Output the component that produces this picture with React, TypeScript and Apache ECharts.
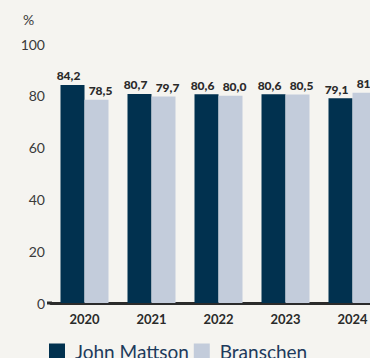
import React, { useEffect, useRef } from "react";
import * as echarts from "echarts";

const years = ["2020", "2021", "2022", "2023", "2024"];
const johnMattson = [84.2, 80.7, 80.6, 80.6, 79.1];
const branschen = [78.5, 79.7, 80.0, 80.5, 81.2];
const seriesNames = ["John Mattson", "Branschen"];

const fmt = (v: number) => v.toFixed(1).replace(".", ",");

export default function App() {
  const ref = useRef<HTMLDivElement>(null);
  useEffect(() => {
    document.body.style.margin = "0";
    const chart = echarts.init(ref.current!, null, { renderer: "svg" });
    const labelStyle = (dx: number) => ({
      show: true,
      position: "top" as const,
      distance: 3,
      offset: [dx, 0],
      fontFamily: "Lato",
      fontWeight: 900,
      fontSize: 12,
      color: "#2a2a2a",
      formatter: (p: any) => fmt(p.value),
    });
    chart.setOption({
      animation: false,
      backgroundColor: "#F5F4F0",
      grid: { left: 51, top: 44, width: 335, height: 259, outerBoundsMode: "none", containLabel: false },
      graphic: [
        { type: "text", left: 23, top: 12, style: { text: "%", fontFamily: "Lato", fontSize: 14, fill: "#3a3a3a" } },
        { type: "line", shape: { x1: 47, y1: 303, x2: 52, y2: 303 }, style: { stroke: "#2b2b2b", lineWidth: 3 } },
      ],
      legend: {
        left: 49,
        top: 342,
        padding: 0,
        itemWidth: 16,
        itemHeight: 16,
        itemGap: 5,
        icon: "rect",
        textStyle: { fontFamily: "Lato", fontSize: 19, lineHeight: 16, color: "#1d3a5c", padding: [3, 0, 0, 5] },
        data: seriesNames,
      },
      xAxis: {
        type: "category",
        data: years,
        axisLine: { lineStyle: { color: "#2b2b2b", width: 3 } },
        axisTick: { show: false },
        axisLabel: { fontFamily: "Lato", fontWeight: "bold", fontSize: 13, color: "#2a2a2a", margin: 9 },
      },
      yAxis: {
        type: "value",
        min: 0,
        max: 100,
        interval: 20,
        splitLine: { show: false },
        axisLine: { show: false },
        axisTick: { show: false },
        axisLabel: { fontFamily: "Lato", fontWeight: "normal", fontSize: 14, color: "#3a3a3a", margin: 6 },
      },
      series: [
        {
          name: seriesNames[0],
          type: "bar",
          data: johnMattson,
          barWidth: 24,
          barGap: "0%",
          itemStyle: { color: "#01314F" },
          label: labelStyle(-4),
        },
        {
          name: seriesNames[1],
          type: "bar",
          data: branschen,
          barWidth: 24,
          itemStyle: { color: "#C3CCDB" },
          label: labelStyle(4),
        },
      ],
    });
    return () => chart.dispose();
  }, []);
  return <div ref={ref} style={{ width: 370, height: 358 }} />;
}
